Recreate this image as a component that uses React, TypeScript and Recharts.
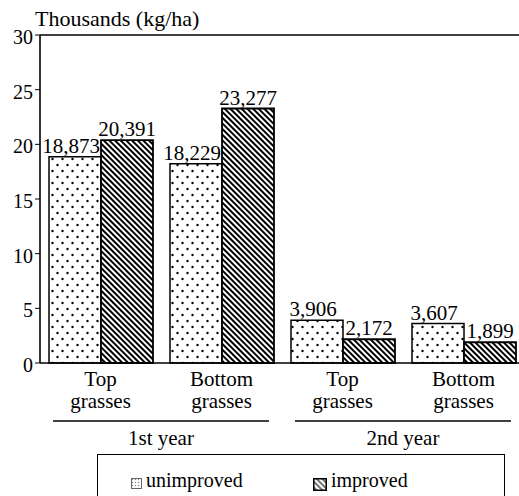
import { BarChart, Bar, XAxis, YAxis, LabelList, ReferenceLine } from "recharts";

const grasses = ["Top grasses", "Bottom grasses", "Top grasses", "Bottom grasses"];
const years = ["1st year", "1st year", "2nd year", "2nd year"];
const unimproved = [18873, 18229, 3906, 3607];
const improved = [20391, 23277, 2172, 1899];
const yTicks = [0, 5000, 10000, 15000, 20000, 25000, 30000];

const data = grasses.map((g, i) => ({
  grass: g,
  year: years[i],
  unimproved: unimproved[i],
  improved: improved[i],
}));

const SERIF = "'Liberation Serif', 'Times New Roman', serif";
const fmt = (v: any) => Number(v).toLocaleString("en-US");

function GrassTick({ x, y, payload }: any) {
  const words = String(payload.value).split(" ");
  return (
    <text x={x} y={y} textAnchor="middle" fontSize={21} fontFamily={SERIF} fill="#000">
      {words.map((w, i) => (
        <tspan key={i} x={x} dy={i === 0 ? 15 : 22}>
          {w}
        </tspan>
      ))}
    </text>
  );
}

function YearTick({ x, y, payload }: any) {
  return (
    <g>
      <line x1={x - 108} x2={x + 108} y1={y - 2} y2={y - 2} stroke="#000" strokeWidth={1.6} />
      <text x={x} y={y} dy={22} textAnchor="middle" fontSize={21} fontFamily={SERIF} fill="#000">
        {payload.value}
      </text>
    </g>
  );
}

export default function App() {
  return (
    <div
      style={{
        position: "absolute",
        left: 0,
        top: 0,
        width: 519,
        height: 496,
        overflow: "hidden",
        background: "#fff",
        fontFamily: SERIF,
        color: "#000",
      }}
    >
      <BarChart
        width={530}
        height={455}
        data={data}
        margin={{ top: 35, right: 6, left: 0, bottom: 0 }}
        barGap={0}
        barCategoryGap={9}
        style={{ fontFamily: SERIF }}
      >
        <defs>
          <pattern id="dots" width="10" height="12" patternUnits="userSpaceOnUse">
            <rect width="10" height="12" fill="#fff" />
            <circle cx="2.5" cy="3" r="1.2" fill="#000" />
            <circle cx="7.5" cy="9" r="1.2" fill="#000" />
          </pattern>
          <pattern id="hatch" width="4" height="4" patternUnits="userSpaceOnUse" patternTransform="rotate(-45)">
            <rect width="4" height="4" fill="#fff" />
            <line x1="2" y1="0" x2="2" y2="4" stroke="#000" strokeWidth="2" />
          </pattern>
        </defs>
        <XAxis
          dataKey="grass"
          height={52}
          axisLine={{ stroke: "#000", strokeWidth: 1.6 }}
          tickLine={false}
          tick={<GrassTick />}
          interval={0}
        />
        <XAxis
          xAxisId="year"
          dataKey="year"
          allowDuplicatedCategory={false}
          height={40}
          axisLine={false}
          tickLine={false}
          tick={<YearTick />}
          interval={0}
        />
        <YAxis
          width={40}
          domain={[0, 30000]}
          ticks={yTicks}
          interval={0}
          tickFormatter={(v) => String(v / 1000)}
          axisLine={{ stroke: "#000", strokeWidth: 1.6 }}
          tickLine={{ stroke: "#000" }}
          tickSize={5}
          tickMargin={2}
          tick={{ fill: "#000", fontSize: 20, fontFamily: SERIF, dy: 2 }}
        />
        <ReferenceLine y={30000} stroke="#000" strokeWidth={1.6} />
        <Bar dataKey="unimproved" fill="url(#dots)" stroke="#000" strokeWidth={1.5} isAnimationActive={false}>
          <LabelList
            dataKey="unimproved"
            position="top"
            offset={4}
            dx={-4}
            formatter={fmt}
            fontSize={21}
            fontFamily={SERIF}
            fill="#000"
          />
        </Bar>
        <Bar dataKey="improved" fill="url(#hatch)" stroke="#000" strokeWidth={1.8} isAnimationActive={false}>
          <LabelList dataKey="improved" position="top" offset={4} formatter={fmt} fontSize={21} fontFamily={SERIF} fill="#000" />
        </Bar>
      </BarChart>

      <div
        style={{
          position: "absolute",
          left: 35,
          top: 8,
          fontSize: 22,
          lineHeight: "22px",
          whiteSpace: "nowrap",
          fontFamily: SERIF,
        }}
      >
        Thousands (kg/ha)
      </div>

      <div
        style={{
          position: "absolute",
          left: 97,
          top: 454,
          width: 408,
          height: 60,
          border: "1.5px solid #000",
          boxSizing: "border-box",
          fontSize: 20,
          lineHeight: "20px",
          fontFamily: SERIF,
        }}
      >
        <svg width={11} height={11} style={{ position: "absolute", left: 33, top: 23 }}>
          <defs>
            <pattern id="legdots" width="3" height="3" patternUnits="userSpaceOnUse">
              <rect width="3" height="3" fill="#fff" />
              <circle cx="1.5" cy="1.5" r="0.7" fill="#888" />
            </pattern>
          </defs>
          <rect x={0.5} y={0.5} width={10} height={10} fill="url(#legdots)" stroke="#666" strokeWidth={1} />
        </svg>
        <div style={{ position: "absolute", left: 48, top: 15, whiteSpace: "nowrap" }}>unimproved</div>
        <svg width={14} height={13} style={{ position: "absolute", left: 215, top: 23 }}>
          <defs>
            <pattern id="leghatch" width="4" height="4" patternUnits="userSpaceOnUse" patternTransform="rotate(-45)">
              <rect width="4" height="4" fill="#fff" />
              <line x1="2" y1="0" x2="2" y2="4" stroke="#000" strokeWidth="1.1" />
            </pattern>
          </defs>
          <rect x={0.75} y={0.75} width={12.5} height={11.5} fill="url(#leghatch)" stroke="#000" strokeWidth={1.5} />
        </svg>
        <div style={{ position: "absolute", left: 233, top: 15, whiteSpace: "nowrap" }}>improved</div>
      </div>
    </div>
  );
}
